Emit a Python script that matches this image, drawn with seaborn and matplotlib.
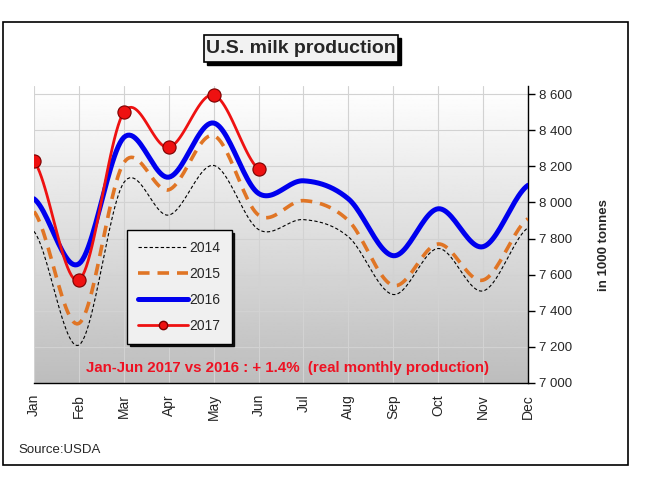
import numpy as np
import pandas as pd
import matplotlib
matplotlib.use("Agg")
import matplotlib.pyplot as plt
from matplotlib.lines import Line2D
from matplotlib.patches import Rectangle
from matplotlib.ticker import FuncFormatter
import seaborn as sns

# monthly US milk production, in 1000 tonnes
months = ["Jan", "Feb", "Mar", "Apr", "May", "Jun", "Jul", "Aug", "Sep", "Oct", "Nov", "Dec"]
prod_2014 = [7840, 7210, 8110, 7930, 8205, 7850, 7905, 7810, 7490, 7745, 7510, 7860]
prod_2015 = [7950, 7330, 8220, 8070, 8370, 7930, 8010, 7900, 7540, 7770, 7570, 7910]
prod_2016 = [8020, 7660, 8360, 8140, 8440, 8050, 8120, 8020, 7705, 7965, 7755, 8095]
prod_2017 = [8230, 7570, 8500, 8305, 8595, 8185]

sns.set_style("white")
plt.rcParams['font.family'] = ['Liberation Sans', 'DejaVu Sans']


def smooth(values, n=24):
    # catmull-rom curve through the monthly points (like excel "smoothed line")
    y = np.asarray(values, float)
    p = np.concatenate([[y[0]], y, [y[-1]]])
    xs, ys = [], []
    t = np.linspace(0, 1, n, endpoint=False)
    for i in range(len(y) - 1):
        p0, p1, p2, p3 = p[i], p[i + 1], p[i + 2], p[i + 3]
        seg = 0.5 * (2 * p1 + (-p0 + p2) * t + (2 * p0 - 5 * p1 + 4 * p2 - p3) * t ** 2
                     + (-p0 + 3 * p1 - 3 * p2 + p3) * t ** 3)
        xs.extend(i + t)
        ys.extend(seg)
    xs.append(len(y) - 1)
    ys.append(y[-1])
    return pd.DataFrame({"x": xs, "y": ys})


fig = plt.figure(figsize=(6.57, 4.8), dpi=100)
ax = fig.add_axes([34 / 657, 1 - 383 / 480, 494 / 657, 297 / 480])

# outer frame
fig.patches.append(Rectangle((3 / 657, 1 - 465 / 480), 625 / 657, 443 / 480,
                             transform=fig.transFigure, fill=False, edgecolor="black", lw=1.2))

# grey gradient background
grad = np.linspace(1.0, 0.74, 256).reshape(-1, 1)
ax.imshow(grad, cmap="gray", vmin=0, vmax=1, aspect="auto", extent=[0, 1, 0, 1],
          transform=ax.transAxes, zorder=0)

ax.grid(True, color="#d2d2d2", lw=0.8, zorder=1)
ax.set_axisbelow(True)

styles = {
    "2014": dict(color="black", lw=0.8, dashes=(3, 2)),
    "2015": dict(color="#e07525", lw=2.6, dashes=(3.2, 2.2)),
    "2016": dict(color="#0000ee", lw=3.6),
    "2017": dict(color="#ee1111", lw=2.0),
}
series = {"2014": prod_2014, "2015": prod_2015, "2016": prod_2016, "2017": prod_2017}
for name, vals in series.items():
    d = smooth(vals)
    st = dict(styles[name])
    dashes = st.pop("dashes", None)
    sns.lineplot(data=d, x="x", y="y", ax=ax, estimator=None, sort=False, zorder=3, **st)
    if dashes:
        ax.lines[-1].set_dashes(dashes)

sns.scatterplot(x=np.arange(len(prod_2017)), y=prod_2017, ax=ax, color="#ee1111",
                edgecolor="#7a0000", linewidth=0.8, s=90, zorder=5)

ax.set_xlim(0, 11)
ax.set_ylim(7000, 8645)
ax.set_xticks(range(12))
ax.set_xticklabels(months, rotation=90, fontsize=10)
ax.set_yticks(range(7000, 8601, 200))
ax.yaxis.set_major_formatter(FuncFormatter(lambda v, p: f"{int(v):,}".replace(",", " ")))
ax.yaxis.tick_right()
ax.tick_params(axis="y", labelsize=9.5, direction="out", length=5, width=1, color="black", pad=3)
ax.tick_params(axis="x", direction="out", length=5, width=1, color="black", pad=3)
ax.set_xlabel("")
ax.set_ylabel("")
for side in ["top", "left"]:
    ax.spines[side].set_visible(False)
for side in ["bottom", "right"]:
    ax.spines[side].set_color("black")
    ax.spines[side].set_linewidth(1.0)

fig.text(604 / 657, 1 - 245 / 480, "in 1000 tonnes", rotation=90, fontsize=9.5,
         fontweight="bold", ha="center", va="center")

# title box with shadow
fig.patches.append(Rectangle((207 / 657, 1 - 65 / 480), 194 / 657, 27 / 480,
                             transform=fig.transFigure, facecolor="black", edgecolor="black"))
fig.patches.append(Rectangle((204 / 657, 1 - 62 / 480), 194 / 657, 27 / 480,
                             transform=fig.transFigure, facecolor="#f2f2f2", edgecolor="black", lw=1.2))
fig.text(301 / 657, 1 - 48.5 / 480, "U.S. milk production", fontsize=14, fontweight="bold",
         ha="center", va="center")

ax.text(0.514, 0.052, "Jan-Jun 2017 vs 2016 : + 1.4%  (real monthly production)",
        transform=ax.transAxes, color="#ee1122", fontsize=10.8, fontweight="bold",
        ha="center", va="center", zorder=6)

handles = [
    Line2D([], [], color="black", lw=0.8, dashes=(3, 2)),
    Line2D([], [], color="#e07525", lw=2.6, dashes=(3.2, 2.2)),
    Line2D([], [], color="#0000ee", lw=3.6),
    Line2D([], [], color="#ee1111", lw=2.0, marker="o", markersize=6,
           markerfacecolor="#ee1111", markeredgecolor="#7a0000"),
]
leg = ax.legend(handles, list(series.keys()), loc="upper left",
                bbox_to_anchor=((127 - 34) / 494, (383 - 230) / 297), borderaxespad=0,
                frameon=True, fancybox=False, shadow={"color": "black", "alpha": 0.9},
                fontsize=10, handlelength=3.6, handletextpad=0.1, labelspacing=0.85,
                borderpad=0.8, framealpha=1)
leg.get_frame().set_edgecolor("black")
leg.get_frame().set_linewidth(1.0)
leg.get_frame().set_facecolor("#f0f0f0")
leg.set_zorder(7)

fig.text(18 / 657, 1 - 450 / 480, "Source:USDA", fontsize=9.5, ha="left", va="center")

fig.savefig("out.png", dpi=100)
